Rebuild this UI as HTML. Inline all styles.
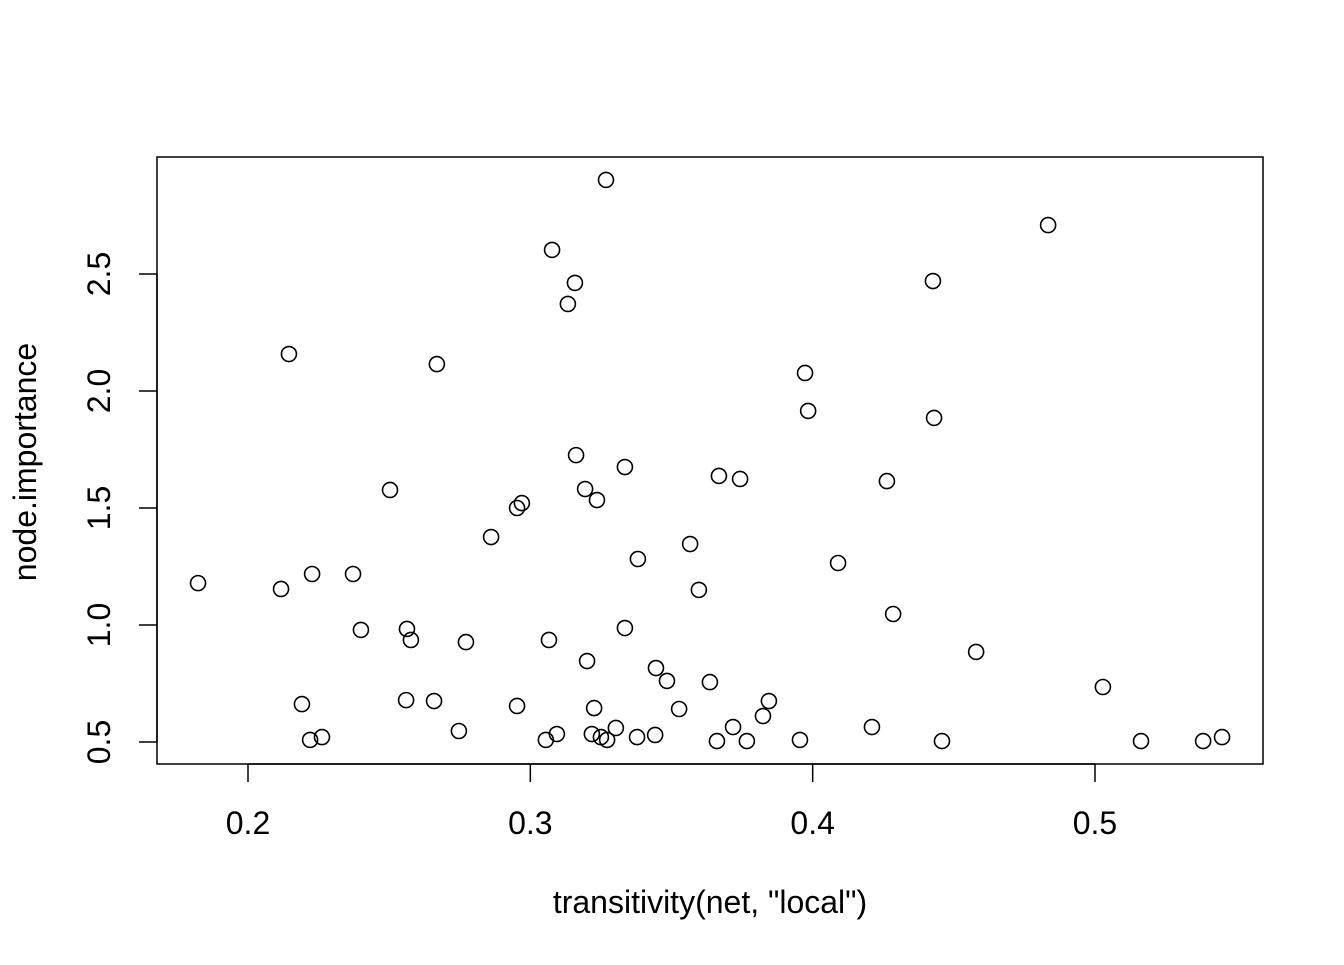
<!DOCTYPE html>
<html><head><meta charset="utf-8"><style>
html,body{margin:0;padding:0;background:#fff;}
svg text{font-family:"Liberation Sans",Arial,sans-serif;fill:#000;}
</style></head><body>
<svg id="chart" width="1344" height="960" xmlns="http://www.w3.org/2000/svg">
<rect width="1344" height="960" fill="#fff"/>
<rect x="157" y="157" width="1106" height="607" fill="none" stroke="#000" stroke-width="1.5"/>
<g id="marks"></g>
<g id="axes"></g>
<text x="710" y="913" font-size="32" text-anchor="middle">transitivity(net, "local")</text>
<text transform="translate(36,462) rotate(-90)" font-size="32" text-anchor="middle">node.importance</text>
</svg>
<script>
const xVals=[0.1823,0.2145,0.2117,0.2227,0.2191,0.2220,0.2262,0.2372,0.2400,0.2503,0.2563,0.2577,0.2560,0.2659,0.2669,0.2747,0.2772,0.2861,0.2953,0.2953,0.2970,0.3055,0.3066,0.3077,0.3094,0.3133,0.3158,0.3162,0.3194,0.3201,0.3218,0.3226,0.3236,0.3250,0.3272,0.3268,0.3303,0.3335,0.3335,0.3378,0.3381,0.3442,0.3445,0.3484,0.3527,0.3566,0.3597,0.3636,0.3661,0.3668,0.3718,0.3743,0.3767,0.3824,0.3845,0.3955,0.3973,0.3984,0.4090,0.4210,0.4263,0.4285,0.4426,0.4430,0.4458,0.4579,0.4834,0.5028,0.5163,0.5383,0.5450];
const yVals=[1.179,2.158,1.154,1.218,0.662,0.509,0.521,1.218,0.979,1.577,0.983,0.936,0.679,0.675,2.115,0.547,0.927,1.376,0.654,1.500,1.521,0.509,0.936,2.603,0.534,2.372,2.462,1.726,1.581,0.846,0.534,0.645,1.534,0.521,0.509,2.902,0.560,1.675,0.987,0.521,1.282,0.530,0.816,0.761,0.641,1.346,1.150,0.756,0.504,1.637,0.564,1.624,0.504,0.611,0.675,0.509,2.077,1.915,1.265,0.564,1.615,1.047,2.470,1.885,0.504,0.885,2.709,0.735,0.504,0.504,0.521];
const xTicks=[0.2,0.3,0.4,0.5];
const xTickLabels=["0.2","0.3","0.4","0.5"];
const yTicks=[0.5,1.0,1.5,2.0,2.5];
const yTickLabels=["0.5","1.0","1.5","2.0","2.5"];

function sx(v){return 248+(v-0.2)*2823.3;}
function sy(v){return 742-(v-0.5)*234;}
const NS="http://www.w3.org/2000/svg";
const marks=document.getElementById('marks');
for(let i=0;i<xVals.length;i++){
  const c=document.createElementNS(NS,'circle');
  c.setAttribute('cx',sx(xVals[i]));c.setAttribute('cy',sy(yVals[i]));
  c.setAttribute('r',7.5);c.setAttribute('fill','none');
  c.setAttribute('stroke','#000');c.setAttribute('stroke-width',1.6);
  
  
  marks.appendChild(c);
}
const axes=document.getElementById('axes');
function line(x1,y1,x2,y2){const l=document.createElementNS(NS,'line');
  l.setAttribute('x1',x1);l.setAttribute('y1',y1);l.setAttribute('x2',x2);l.setAttribute('y2',y2);
  l.setAttribute('stroke','#000');l.setAttribute('stroke-width',1.5);return l;}
const xa=line(sx(xTicks[0]),764,sx(xTicks[xTicks.length-1]),764);


axes.appendChild(xa);
xTicks.forEach((t,i)=>{
  const l=line(sx(t),764,sx(t),782);
  
  
  axes.appendChild(l);
  const tx=document.createElementNS(NS,'text');
  tx.setAttribute('x',sx(t));tx.setAttribute('y',834);tx.setAttribute('font-size',32);
  tx.setAttribute('text-anchor','middle');tx.textContent=xTickLabels[i];
  
  
  axes.appendChild(tx);
});
const ya=line(157,sy(yTicks[0]),157,sy(yTicks[yTicks.length-1]));


axes.appendChild(ya);
yTicks.forEach((t,i)=>{
  const l=line(139,sy(t),157,sy(t));
  
  
  axes.appendChild(l);
  const tx=document.createElementNS(NS,'text');
  tx.setAttribute('transform','translate(110,'+sy(t)+') rotate(-90)');
  tx.setAttribute('font-size',32);tx.setAttribute('text-anchor','middle');
  tx.textContent=yTickLabels[i];
  
  
  axes.appendChild(tx);
});
</script>
</body></html>
